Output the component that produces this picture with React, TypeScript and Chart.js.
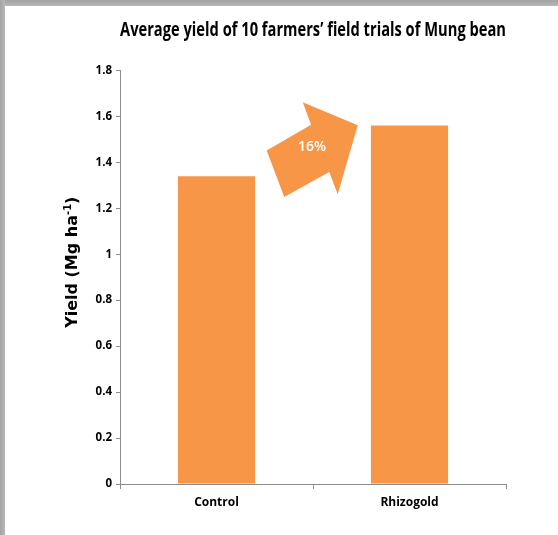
import React, { useEffect, useRef } from "react";
import { Chart, registerables } from "chart.js";

Chart.register(...registerables);

const categories = ["Control", "Rhizogold"];
const yieldValues = [1.34, 1.56];
const yMin = 0;
const yMax = 1.8;
const yStep = 0.2;
const titleText = "Average yield of 10 farmers\u2019 field trials of Mung bean";
const yTitleMain = "Yield (Mg ha";
const yTitleSup = "-1";
const yTitleEnd = ")";
const increaseLabel = "16%";
// arrow outline in (category position, value) units
const arrowIdx = [0.26, 0.49, 0.447, 0.732, 0.628, 0.584, 0.351];
const arrowVal = [1.452, 1.564, 1.662, 1.561, 1.261, 1.358, 1.249];
const arrowLabelAt = [0.495, 1.465];

const ORANGE = "#F79646";
const AXIS = "#8c8c8c";
const HUMAN = "'Open Sans', sans-serif";
const WIDE = "'DejaVu Sans', 'Liberation Sans', sans-serif";

const annotPlugin = {
  id: "annot",
  afterDatasetsDraw(chart: any) {
    const { ctx, scales, chartArea } = chart;
    const x = scales.x;
    const y = scales.y;
    const x0 = x.getPixelForValue(0);
    const x1 = x.getPixelForValue(1);
    const px = (i: number) => x0 + i * (x1 - x0);
    ctx.save();
    ctx.beginPath();
    arrowIdx.forEach((i, k) => {
      const X = px(i);
      const Y = y.getPixelForValue(arrowVal[k]);
      if (k === 0) ctx.moveTo(X, Y);
      else ctx.lineTo(X, Y);
    });
    ctx.closePath();
    ctx.fillStyle = ORANGE;
    ctx.fill();
    ctx.fillStyle = "#ffffff";
    ctx.font = "600 14px " + HUMAN;
    ctx.textAlign = "center";
    ctx.textBaseline = "middle";
    ctx.fillText(increaseLabel, px(arrowLabelAt[0]), y.getPixelForValue(arrowLabelAt[1]));
    ctx.restore();

    // y axis title with superscript
    ctx.save();
    const cx = chartArea.left - 47;
    const cy = (chartArea.top + chartArea.bottom) / 2 - 15;
    ctx.translate(cx, cy);
    ctx.rotate(-Math.PI / 2);
    ctx.fillStyle = "#000";
    ctx.textBaseline = "middle";
    ctx.textAlign = "left";
    const mainFont = "bold 16px " + WIDE;
    const supFont = "bold 10px " + WIDE;
    ctx.font = mainFont;
    const w1 = ctx.measureText(yTitleMain).width;
    const w3 = ctx.measureText(yTitleEnd).width;
    ctx.font = supFont;
    const w2 = ctx.measureText(yTitleSup).width;
    let sx = -(w1 + w2 + w3) / 2;
    ctx.font = mainFont;
    ctx.fillText(yTitleMain, sx, 0);
    sx += w1;
    ctx.font = supFont;
    ctx.fillText(yTitleSup, sx, -5);
    sx += w2;
    ctx.font = mainFont;
    ctx.fillText(yTitleEnd, sx, 0);
    ctx.restore();
  },
};

export default function App() {
  const ref = useRef<HTMLCanvasElement>(null);
  useEffect(() => {
    document.body.style.margin = "0";
    const chart = new Chart(ref.current!, {
      type: "bar",
      data: {
        labels: categories,
        datasets: [
          {
            data: yieldValues,
            backgroundColor: ORANGE,
            barPercentage: 0.4,
            categoryPercentage: 1,
          },
        ],
      },
      options: {
        animation: false,
        responsive: false,
        layout: { padding: { left: 0, right: 52, top: 0, bottom: 0 } },
        plugins: {
          legend: { display: false },
          tooltip: { enabled: false },
          title: {
            display: true,
            text: titleText,
            fullSize: false,
            color: "#000",
            font: { family: HUMAN, size: 18.7, weight: "bold" },
            padding: { top: 19, bottom: 29 },
          },
        },
        scales: {
          x: {
            grid: {
              display: true,
              drawOnChartArea: false,
              drawTicks: true,
              tickLength: 5,
              color: AXIS,
              offset: true,
            },
            border: { color: AXIS, width: 1 },
            ticks: {
              color: "#000",
              font: { family: HUMAN, size: 12, weight: "bold" },
              padding: 6,
            },
            afterFit(scale: any) {
              scale.height = 51;
            },
          },
          y: {
            min: yMin,
            max: yMax,
            grid: {
              display: true,
              drawOnChartArea: false,
              drawTicks: true,
              tickLength: 4,
              color: AXIS,
            },
            border: { color: AXIS, width: 1 },
            ticks: {
              stepSize: yStep,
              color: "#000",
              font: { family: HUMAN, size: 11.5, weight: "bold" },
              padding: 4,
              callback: (v: any) => String(Number(Number(v).toFixed(1))),
            },
            afterFit(scale: any) {
              scale.width = 120;
            },
          },
        },
      },
      plugins: [annotPlugin],
    });
    return () => chart.destroy();
  }, []);
  return (
    <div style={{ position: "relative", width: 558, height: 535, background: "#fff" }}>
      <canvas ref={ref} width={558} height={535} style={{ display: "block" }} />
      <div
        style={{
          position: "absolute",
          left: 0,
          top: 0,
          width: 558,
          height: 6,
          background: "linear-gradient(#a3a3a3, #b8b8b8)",
        }}
      />
      <div
        style={{
          position: "absolute",
          left: 0,
          top: 0,
          width: 5,
          height: 535,
          background: "linear-gradient(90deg, #a3a3a3, #b8b8b8)",
        }}
      />
    </div>
  );
}
